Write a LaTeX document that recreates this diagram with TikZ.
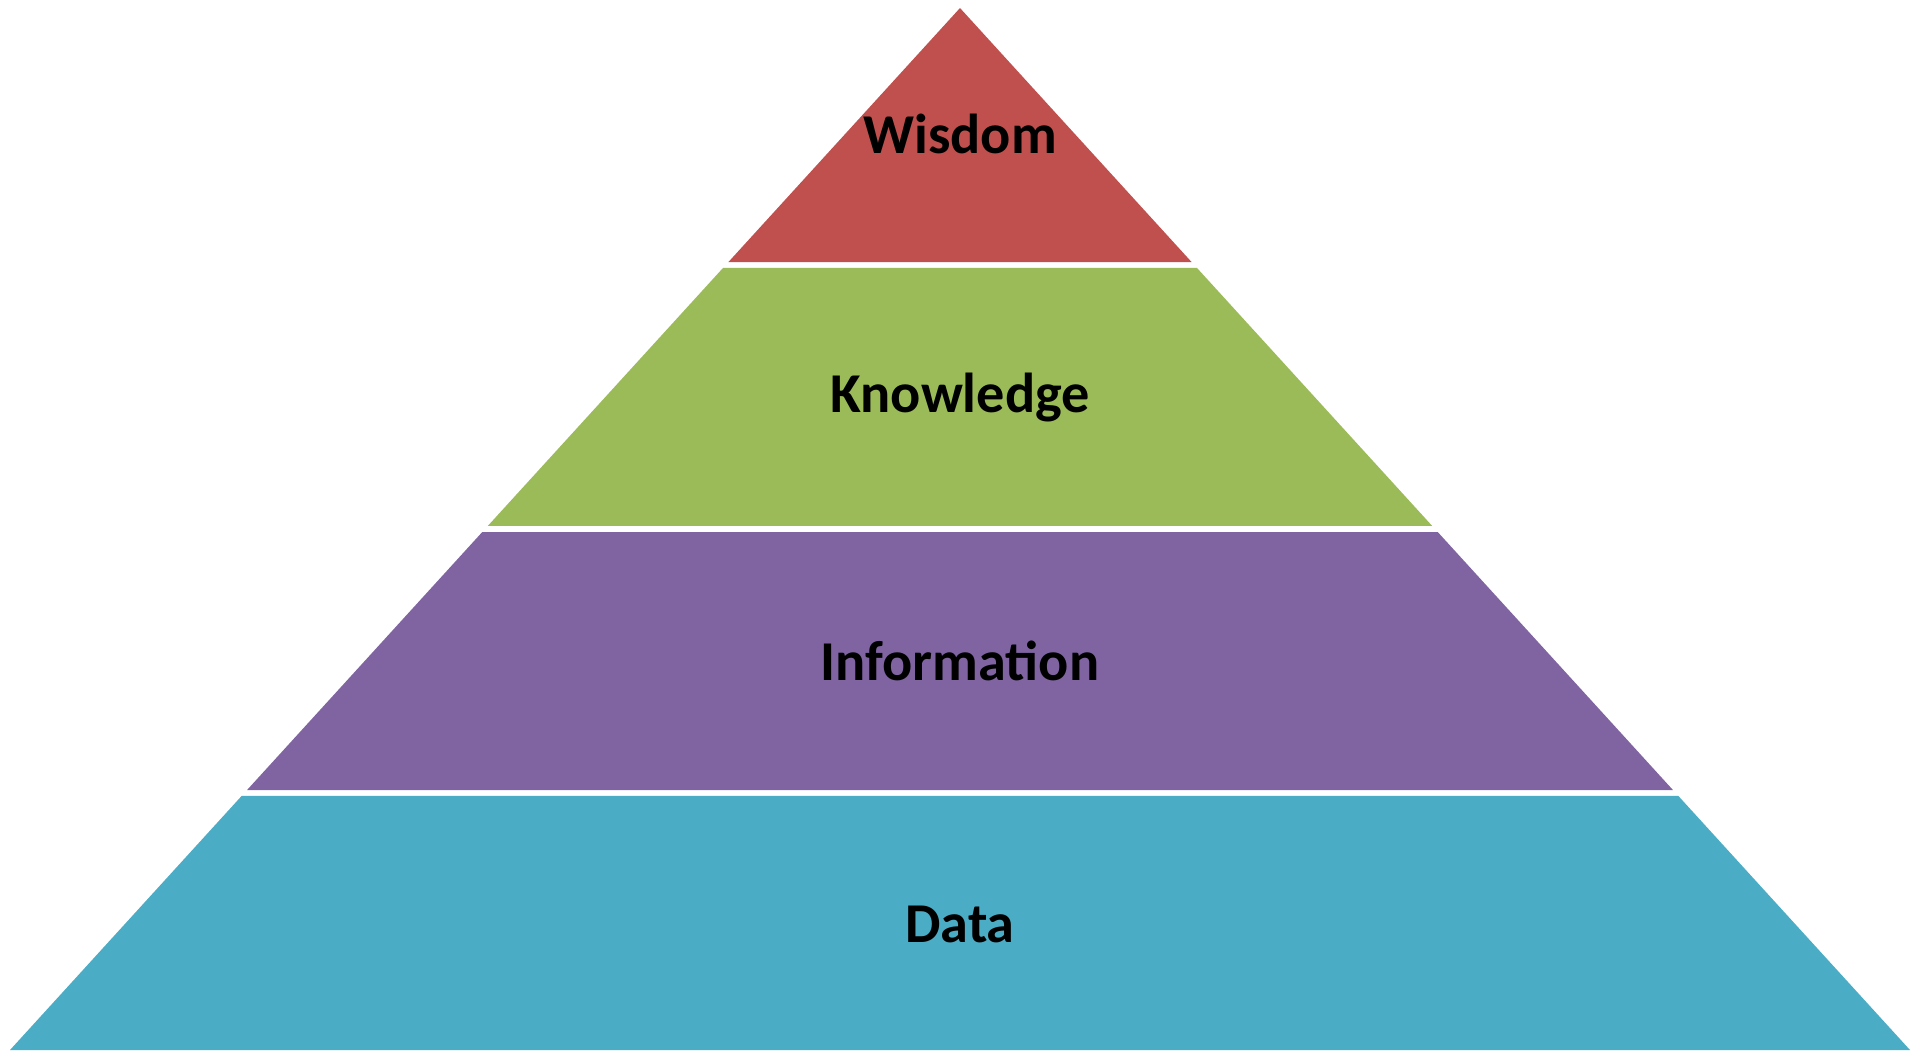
\documentclass[tikz,border=0pt]{standalone}
\usepackage{fontspec}
\setmainfont{Carlito}
\usetikzlibrary{calc}
\definecolor{wisdomred}{HTML}{C0504D}
\definecolor{knowgreen}{HTML}{9BBB59}
\definecolor{infopurple}{HTML}{8064A2}
\definecolor{datateal}{HTML}{4BACC6}
\tikzset{
  layerlabel/.style={font=\bfseries\fontsize{16}{18}\selectfont, text=black},
}
\begin{document}
\begin{tikzpicture}[x=0.01cm,y=-0.01cm]
  \useasboundingbox (0,0) rectangle (1920,1059);
  \coordinate (apex) at (960,8);
  \coordinate (bl) at (10,1050);
  \coordinate (br) at (1910,1050);

  % layers, bottom up
  \fill[datateal] ($(apex)!0.756!(bl)$) -- (bl) -- (br) -- ($(apex)!0.756!(br)$) -- cycle;
  \fill[infopurple] ($(apex)!0.503!(bl)$) -- ($(apex)!0.7505!(bl)$) -- ($(apex)!0.7505!(br)$) -- ($(apex)!0.503!(br)$) -- cycle;
  \fill[knowgreen] ($(apex)!0.2495!(bl)$) -- ($(apex)!0.497!(bl)$) -- ($(apex)!0.497!(br)$) -- ($(apex)!0.2495!(br)$) -- cycle;
  \fill[wisdomred] (apex) -- ($(apex)!0.2438!(bl)$) -- ($(apex)!0.2438!(br)$) -- cycle;

  % texts
  \node[layerlabel] (wisdom) at (960,134) {Wisdom};
  \node[layerlabel] (knowledge) at (960,398) {Knowledge};
  \node[layerlabel] (information) at (960,661) {Information};
  \node[layerlabel] (data) at (960,924) {Data};
\end{tikzpicture}
\end{document}
